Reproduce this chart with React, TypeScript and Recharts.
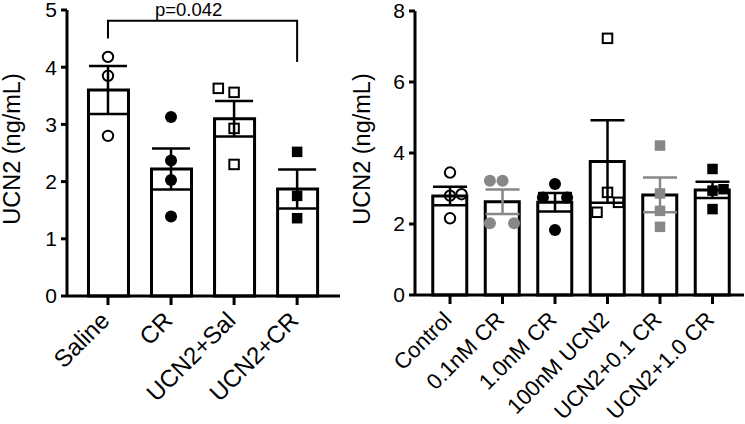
import React from "react";
import {
  Bar,
  ComposedChart,
  ErrorBar,
  Line,
  ReferenceDot,
  Scatter,
  XAxis,
  YAxis,
} from "recharts";

// left panel
const leftGroups = ["Saline", "CR", "UCN2+Sal", "UCN2+CR"];
const leftMeans = [3.6, 2.22, 3.1, 1.87];
const leftSem = [0.42, 0.36, 0.31, 0.34];
const salinePts = [4.18, 3.85, 2.8];
const crPts = [3.13, 2.37, 2.03, 1.39];
const ucnSalPts = [3.63, 3.56, 2.93, 2.3];
const ucnSalJitter = [-0.25, 0, 0, 0];
const ucnCrPts = [2.52, 1.75, 1.36];
const leftTicks = [0, 1, 2, 3, 4, 5];
const bracket = [
  { x: 0, y: 4.5 },
  { x: 0, y: 4.81 },
  { x: 3, y: 4.81 },
  { x: 3, y: 4.09 },
];
const pLabel = "p=0.042";

// right panel
const rightGroups = ["Control", "0.1nM CR", "1.0nM CR", "100nM UCN2", "UCN2+0.1 CR", "UCN2+1.0 CR"];
const rightMeans = [2.79, 2.63, 2.61, 3.76, 2.82, 2.96];
const rightSem = [0.26, 0.345, 0.26, 1.16, 0.49, 0.23];
const controlPts = [3.45, 2.8, 2.84, 2.16];
const controlJitter = [0, 0, 0.22, 0];
const cr01Pts = [3.22, 3.22, 2.02, 2.02];
const cr01Jitter = [-0.24, 0, -0.24, 0.22];
const cr10Pts = [3.13, 2.75, 2.75, 1.83];
const cr10Jitter = [0, -0.23, 0.23, 0];
const ucn100Pts = [7.23, 2.89, 2.33, 2.61];
const ucn100Jitter = [0, 0, -0.2, 0.21];
const ucn01Pts = [4.21, 2.86, 2.37, 1.92];
const ucn10Pts = [3.55, 2.94, 2.98, 2.42];
const ucn10Jitter = [0, 0, 0.21, 0];
const rightTicks = [0, 2, 4, 6, 8];
const grayGroups = [1, 4];

const GRAY = "#878787";
const FONT = "'Liberation Sans', Arial, Helvetica, sans-serif";

const pts = (gi: number, vals: number[], jitter?: number[]) =>
  vals.map((v, i) => ({ x: gi + (jitter ? jitter[i] : 0), y: v }));

const barRows = (means: number[]) => means.map((m, i) => ({ x: i, mean: m }));
const errRows = (means: number[], sem: number[], keep: (i: number) => boolean) =>
  means.map((m, i) => ({ x: i, mean: m, sem: sem[i] })).filter((_, i) => keep(i));

const marker = (kind: string) => (p: any) => {
  const { cx, cy } = p;
  if (cx == null || cy == null) return <g />;
  const open = kind.startsWith("open");
  const color = kind.startsWith("gray") ? GRAY : "#000";
  if (kind.endsWith("Circle")) {
    return open ? (
      <circle cx={cx} cy={cy} r={5.2} fill="none" stroke={color} strokeWidth={2} />
    ) : (
      <circle cx={cx} cy={cy} r={6} fill={color} />
    );
  }
  const s = open ? 9.5 : 10.5;
  return open ? (
    <rect x={cx - s / 2} y={cy - s / 2} width={s} height={s} fill="none" stroke={color} strokeWidth={2} />
  ) : (
    <rect x={cx - s / 2} y={cy - s / 2} width={s} height={s} fill={color} />
  );
};

const noShape = () => <g />;

const SlantTick = (props: any) => {
  const { x, y, payload, names, size } = props;
  return (
    <g transform={`translate(${x + 3},${y + 15})`}>
      <text textAnchor="end" transform="rotate(-45)" fontSize={size} fill="#000">
        {names[payload.value]}
      </text>
    </g>
  );
};

const yLabel = (dx: number) => (props: any) => {
  const vb = props.viewBox;
  const cx = vb.x + dx;
  const cy = vb.y + vb.height / 2 - 4;
  return (
    <text x={cx} y={cy} transform={`rotate(-90, ${cx}, ${cy})`} textAnchor="middle"
      dominantBaseline="central" fontSize={23.5} fill="#000">
      UCN2 (ng/mL)
    </text>
  );
};

const axisProps = {
  stroke: "#000",
  strokeWidth: 3,
  tickLine: { stroke: "#000", strokeWidth: 3 },
};

const LeftPanel = () => (
  <ComposedChart width={345} height={424} data={barRows(leftMeans)}
    margin={{ top: 10, right: 5, bottom: 0, left: 0 }}>
    <XAxis type="number" dataKey="x" domain={[-0.65, 3.68]} ticks={[0, 1, 2, 3]} interval={0}
      height={128} tickSize={9} {...axisProps}
      tick={(p: any) => <SlantTick {...p} names={leftGroups} size={24} />} />
    <XAxis xAxisId="p" type="number" dataKey="x" domain={[-0.65, 3.68]} hide />
    <YAxis type="number" domain={[0, 5]} ticks={leftTicks} interval={0} width={67}
      tickSize={6} tickMargin={4} {...axisProps}
      tick={{ fill: "#000", fontSize: 21 }} label={yLabel(12)} />
    <Bar dataKey="mean" barSize={40} fill="#fff" stroke="#000" strokeWidth={3} isAnimationActive={false} />
    <Scatter xAxisId="p" data={pts(0, salinePts)} dataKey="y" shape={marker("openCircle")} isAnimationActive={false} />
    <Scatter xAxisId="p" data={pts(1, crPts)} dataKey="y" shape={marker("blackCircle")} isAnimationActive={false} />
    <Scatter xAxisId="p" data={pts(2, ucnSalPts, ucnSalJitter)} dataKey="y" shape={marker("openSquare")} isAnimationActive={false} />
    <Scatter xAxisId="p" data={pts(3, ucnCrPts)} dataKey="y" shape={marker("blackSquare")} isAnimationActive={false} />
    <Scatter xAxisId="p" data={errRows(leftMeans, leftSem, () => true)} dataKey="mean" shape={noShape}
      isAnimationActive={false}>
      <ErrorBar dataKey="sem" direction="y" width={19} stroke="#000" strokeWidth={2.5} />
    </Scatter>
    <Line xAxisId="p" data={bracket} dataKey="y" type="linear" stroke="#000" strokeWidth={2} dot={false}
      isAnimationActive={false} />
    <ReferenceDot xAxisId="p" x={1.28} y={4.81} r={0} fill="none" stroke="none"
      label={{ value: pLabel, position: "top", offset: 5, fontSize: 18.5, fill: "#000" }} />
  </ComposedChart>
);

const RightPanel = () => (
  <ComposedChart width={400} height={424} data={barRows(rightMeans)}
    margin={{ top: 11, right: 1, bottom: 0, left: 0 }}>
    <XAxis type="number" dataKey="x" domain={[-0.667, 5.6]} ticks={[0, 1, 2, 3, 4, 5]} interval={0}
      height={129} tickSize={9} {...axisProps}
      tick={(p: any) => <SlantTick {...p} names={rightGroups} size={22} />} />
    <XAxis xAxisId="p" type="number" dataKey="x" domain={[-0.667, 5.6]} hide />
    <YAxis type="number" domain={[0, 8]} ticks={rightTicks} interval={0} width={70}
      tickSize={6} tickMargin={4} {...axisProps}
      tick={{ fill: "#000", fontSize: 21 }} label={yLabel(17)} />
    <Bar dataKey="mean" barSize={34} fill="#fff" stroke="#000" strokeWidth={3} isAnimationActive={false} />
    <Scatter xAxisId="p" data={pts(0, controlPts, controlJitter)} dataKey="y" shape={marker("openCircle")} isAnimationActive={false} />
    <Scatter xAxisId="p" data={pts(1, cr01Pts, cr01Jitter)} dataKey="y" shape={marker("grayCircle")} isAnimationActive={false} />
    <Scatter xAxisId="p" data={pts(2, cr10Pts, cr10Jitter)} dataKey="y" shape={marker("blackCircle")} isAnimationActive={false} />
    <Scatter xAxisId="p" data={pts(3, ucn100Pts, ucn100Jitter)} dataKey="y" shape={marker("openSquare")} isAnimationActive={false} />
    <Scatter xAxisId="p" data={pts(4, ucn01Pts)} dataKey="y" shape={marker("graySquare")} isAnimationActive={false} />
    <Scatter xAxisId="p" data={pts(5, ucn10Pts, ucn10Jitter)} dataKey="y" shape={marker("blackSquare")} isAnimationActive={false} />
    <Scatter xAxisId="p" data={errRows(rightMeans, rightSem, (i) => !grayGroups.includes(i))} dataKey="mean"
      shape={noShape} isAnimationActive={false}>
      <ErrorBar dataKey="sem" direction="y" width={17} stroke="#000" strokeWidth={2.5} />
    </Scatter>
    <Scatter xAxisId="p" data={errRows(rightMeans, rightSem, (i) => grayGroups.includes(i))} dataKey="mean"
      shape={noShape} isAnimationActive={false}>
      <ErrorBar dataKey="sem" direction="y" width={17} stroke={GRAY} strokeWidth={2.5} />
    </Scatter>
  </ComposedChart>
);

export default function App() {
  return (
    <div style={{ position: "absolute", left: 0, top: 0, width: 745, height: 424, display: "flex",
      background: "#fff", fontFamily: FONT }}>
      <LeftPanel />
      <RightPanel />
    </div>
  );
}
